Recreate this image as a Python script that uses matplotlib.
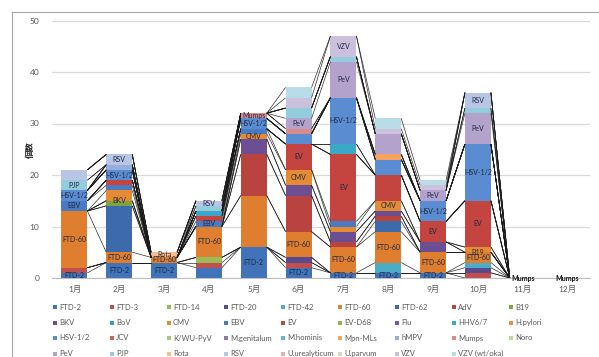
import matplotlib.pyplot as plt
import numpy as np
from matplotlib.lines import Line2D
from matplotlib.patches import Rectangle

plt.rcParams['font.family'] = ['Lato', 'Noto Sans CJK JP', 'DejaVu Sans']

# meses y nombres de patógenos (orden de apilado)
meses = ['1月', '2月', '3月', '4月', '5月', '6月', '7月', '8月', '9月', '10月', '11月', '12月']
nombres = ['FTD-2', 'FTD-3', 'FTD-14', 'FTD-20', 'FTD-42', 'FTD-60', 'FTD-62', 'AdV', 'B19',
           'BKV', 'BoV', 'CMV', 'EBV', 'EV', 'EV-D68', 'Flu', 'HHV6/7', 'H.pylori',
           'HSV-1/2', 'JCV', 'K/WU-PyV', 'M.genitalum', 'M.hominis', 'Mpn-MLs', 'hMPV', 'Mumps', 'Noro',
           'PeV', 'PJP', 'Rota', 'RSV', 'U.urealyticum', 'U.parvum', 'VZV', 'VZV (wt/oka)']
colores = ['#4173b8', '#c0504d', '#9bbb59', '#5a4a8c', '#4bacc6', '#de7e2e', '#3c6aaa', '#b8433f', '#7fa33f',
           '#6b4f92', '#31a0bc', '#e58b35', '#4a7bc2', '#c4443f', '#8db650', '#7558a0', '#3aa8c6', '#f08c3c',
           '#5a8cd2', '#d0625f', '#a8c978', '#8e78b0', '#5db8d2', '#f7a25e', '#95aedb', '#d98b89', '#bdd59b',
           '#b3a2cb', '#93ccdc', '#f9bc8c', '#b8c5e5', '#e4b0af', '#cfe0b8', '#cbc1dc', '#b9dde8']

# número de casos por mes (solo los que no son cero)
ene = {'FTD-2': 1, 'FTD-3': 1, 'FTD-60': 11, 'EBV': 2, 'HSV-1/2': 2, 'PJP': 2, 'RSV': 2}
feb = {'FTD-2': 3, 'FTD-60': 2, 'FTD-62': 9, 'B19': 1, 'CMV': 2, 'EBV': 1, 'EV': 1,
       'HSV-1/2': 2, 'hMPV': 1, 'RSV': 2}
mar = {'FTD-2': 3, 'FTD-60': 1, 'Rota': 1}
abr = {'FTD-2': 2, 'FTD-3': 1, 'FTD-14': 1, 'FTD-60': 6, 'EBV': 1, 'EV': 1, 'HHV6/7': 1,
       'PJP': 1, 'RSV': 1}
may = {'FTD-2': 6, 'FTD-60': 10, 'AdV': 8, 'BKV': 3, 'CMV': 1, 'EBV': 1, 'HSV-1/2': 2, 'Mumps': 1}
jun = {'FTD-2': 2, 'FTD-3': 1, 'FTD-20': 1, 'FTD-60': 5, 'AdV': 7, 'BKV': 2, 'CMV': 3, 'EV': 5,
       'HSV-1/2': 2, 'Mumps': 1, 'PeV': 2, 'PJP': 2, 'VZV': 2, 'VZV (wt/oka)': 2}
jul = {'FTD-2': 1, 'FTD-60': 5, 'AdV': 1, 'BKV': 2, 'CMV': 1, 'EBV': 1, 'EV': 13, 'HHV6/7': 2,
       'HSV-1/2': 9, 'PeV': 7, 'PJP': 1, 'VZV': 4}
ago = {'FTD-2': 1, 'FTD-42': 2, 'FTD-60': 6, 'FTD-62': 2, 'AdV': 1, 'BKV': 1, 'CMV': 2, 'EV': 5,
       'HSV-1/2': 3, 'Mpn-MLs': 1, 'PeV': 4, 'VZV': 1, 'VZV (wt/oka)': 2}
sep = {'FTD-2': 1, 'FTD-60': 4, 'BKV': 2, 'EV': 4, 'HSV-1/2': 4, 'PeV': 2, 'VZV': 1, 'VZV (wt/oka)': 1}
octu = {'FTD-3': 1, 'FTD-20': 1, 'FTD-42': 1, 'FTD-60': 2, 'CMV': 1, 'EV': 9, 'HSV-1/2': 11,
        'PeV': 6, 'PJP': 1, 'RSV': 3}
nov = {}
dic = {}
por_mes = [ene, feb, mar, abr, may, jun, jul, ago, sep, octu, nov, dic]

# etiquetas que se ven sobre las barras
etiquetas = [
    ['FTD-2', 'FTD-60', 'EBV', 'HSV-1/2', 'PJP'],
    ['FTD-2', 'FTD-60', 'BKV', 'HSV-1/2', 'RSV'],
    ['FTD-2', 'FTD-60', 'Rota'],
    ['FTD-60', 'EBV', 'RSV'],
    ['FTD-2', 'CMV', 'HSV-1/2', 'Mumps'],
    ['FTD-2', 'FTD-60', 'CMV', 'EV', 'PeV'],
    ['FTD-2', 'FTD-60', 'EV', 'HSV-1/2', 'PeV', 'VZV'],
    ['FTD-2', 'FTD-60', 'CMV'],
    ['FTD-2', 'FTD-60', 'EV', 'HSV-1/2', 'PeV'],
    ['B19', 'FTD-60', 'EV', 'HSV-1/2', 'PeV', 'RSV'],
    ['Mumps'],
    ['Mumps'],
]

datos = np.array([[m.get(n, 0) for m in por_mes] for n in nombres], dtype=float)
base = np.vstack([np.zeros(len(meses)), np.cumsum(datos, axis=0)[:-1]])
tope = base + datos

fig = plt.figure(figsize=(5.99, 3.57), dpi=100)
ax = fig.add_axes([52/599, 79/357, 538/599, 257.5/357])
x = np.arange(len(meses))
ancho = 0.58

ax.set_axisbelow(True)
ax.yaxis.grid(True, color='#d9d9d9', lw=0.9)
for i, n in enumerate(nombres):
    ax.bar(x, datos[i], ancho, bottom=base[i], color=colores[i], lw=0)

# líneas de serie entre barras
for i in range(len(nombres)):
    for j in range(len(meses) - 1):
        ax.plot([x[j] + ancho/2, x[j+1] - ancho/2], [tope[i, j], tope[i, j+1]],
                color='#1a1a1a', lw=0.5, alpha=0.9, solid_capstyle='butt')

# nombres dentro de los segmentos
for j, lista in enumerate(etiquetas):
    for n in lista:
        i = nombres.index(n)
        vacio = datos[:, j].sum() == 0
        ax.text(x[j], base[i, j] + datos[i, j] / 2, n, ha='center', va='center',
                fontsize=5, color='#111111' if vacio else '#1f2a44',
                fontweight='bold' if vacio else 'normal')

ax.set_xlim(-0.5, len(meses) - 0.5)
ax.set_ylim(0, 50)
ax.set_yticks(range(0, 51, 10))
ax.set_xticks(x, meses)
ax.tick_params(axis='both', length=0, labelsize=6, colors='#595959', pad=5)
ax.tick_params(axis='y', pad=9)
for s in ['top', 'right', 'left']:
    ax.spines[s].set_visible(False)
ax.spines['bottom'].set_color('#bfbfbf')

fig.text(30/599, 1 - 150/357, '個数', rotation=90, ha='center', va='center',
         fontsize=6, fontweight='bold', color='#262626')

# leyenda en filas de 9
for k, n in enumerate(nombres):
    fila, col = divmod(k, 9)
    lx = (55 + col * 57) / 599
    ly = 1 - (307 + fila * 15.5) / 357
    fig.patches.append(Rectangle((lx - 2/599, ly - 2/357), 4/599, 4/357, transform=fig.transFigure,
                                 color=colores[k], lw=0))
    fig.text(lx + 4/599, ly, n, fontsize=5.5, color='#595959', va='center', ha='left')

# borde del área del gráfico
fig.add_artist(Line2D([12/599, 1], [1 - 12/357, 1 - 12/357], transform=fig.transFigure,
                      color='#a6a6a6', lw=0.8))
fig.add_artist(Line2D([12/599, 12/599], [0, 1 - 12/357], transform=fig.transFigure,
                      color='#a6a6a6', lw=0.8))

fig.savefig('out.png', dpi=100)
